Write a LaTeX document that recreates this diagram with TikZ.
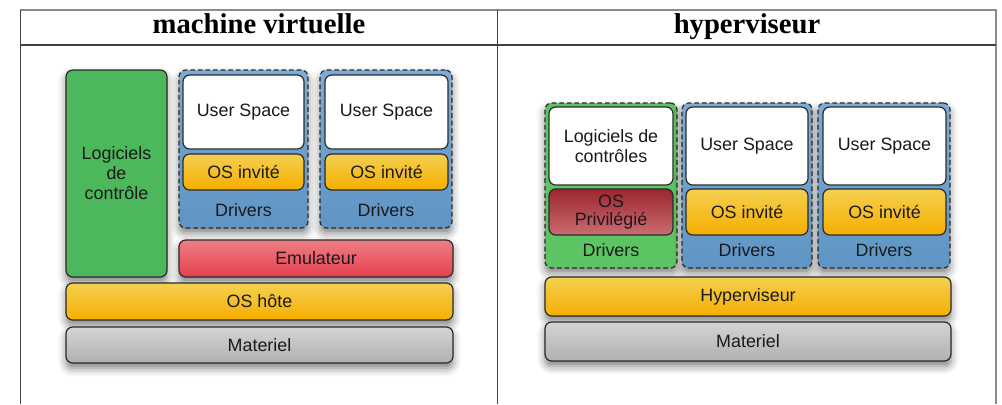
\documentclass[tikz,border=0pt]{standalone}
\usepackage{fontspec}
\setmainfont{Liberation Serif}
\setsansfont{Liberation Sans}
\usetikzlibrary{shadows.blur}

\definecolor{bord}{HTML}{2A2A2A}
\definecolor{texte}{HTML}{1A1A1A}
\definecolor{vertA}{HTML}{4DB85B}
\definecolor{vertB}{HTML}{5CC462}
\definecolor{bleuH}{HTML}{7CABD4}
\definecolor{bleuB}{HTML}{5F94C4}
\definecolor{orangeH}{HTML}{F4D050}
\definecolor{orangeB}{HTML}{F6AE00}
\definecolor{rougeH}{HTML}{EE7E84}
\definecolor{rougeB}{HTML}{E5404F}
\definecolor{grisH}{HTML}{D4D4D4}
\definecolor{grisB}{HTML}{B0B0B0}
\definecolor{bordeauxH}{HTML}{9C2630}
\definecolor{bordeauxB}{HTML}{CB6C72}

% #1: style, #2: name, #3: x1, #4: y1, #5: x2, #6: y2, #7: text
\newcommand{\bloc}[7][]{%
	\pgfmathsetmacro\bx{(#3+#5)/2}\pgfmathsetmacro\by{(#4+#6)/2}%
	\pgfmathsetmacro\bw{(#5-#3)*0.75}\pgfmathsetmacro\bh{(#6-#4)*0.75}%
	\node[couche,#1,minimum width=\bw pt,minimum height=\bh pt] (#2) at (\bx,\by) {#7};
}

\tikzset{
	couche/.style={draw=bord,line width=0.9pt,rounded corners=5pt,inner sep=0pt,outer sep=0pt,
		font=\sffamily\fontsize{13.4}{15}\selectfont,text=texte,align=center},
	ombre/.style={blur shadow={shadow xshift=0pt,shadow yshift=-4pt,shadow blur radius=6pt,shadow opacity=50}},
	logiciel/.style={ombre,fill=vertA},
	espace/.style={fill=white},
	invite/.style={top color=orangeH,bottom color=orangeB},
	hote/.style={ombre,top color=orangeH,bottom color=orangeB},
	emul/.style={ombre,top color=rougeH,bottom color=rougeB},
	materiel/.style={ombre,top color=grisH,bottom color=grisB},
	privilegie/.style={top color=bordeauxH,bottom color=bordeauxB,font=\sffamily\fontsize{13.4}{14}\selectfont},
	vmbleu/.style={ombre,dash pattern=on 3.5pt off 2.2pt,top color=bleuH,bottom color=bleuB},
	vmvert/.style={ombre,dash pattern=on 3.5pt off 2.2pt,fill=vertB},
	pilote/.style={font=\sffamily\fontsize{13.4}{15}\selectfont,text=texte,inner sep=0pt},
	titre/.style={font=\bfseries\fontsize{21.5}{24}\selectfont,inner sep=0pt,anchor=base},
}

\begin{document}
\begin{tikzpicture}[x=0.75pt,y=-0.75pt]
	\useasboundingbox (0,0) rectangle (1002,404);
	
	% Table
	\draw[black!45,line width=1.5pt] (20,10) -- (997,10);
	\draw[black!45,line width=1.5pt] (996,10) -- (996,404);
	\draw[black!75,line width=0.8pt] (20.5,10) -- (20.5,404);
	\draw[black!75,line width=0.8pt] (497.5,10) -- (497.5,404);
	\draw[black!75,line width=0.8pt] (20.5,45) -- (996,45);
	\node[titre] (titreA) at (259,33) {machine virtuelle};
	\node[titre] (titreB) at (747,33) {hyperviseur};
	
	% Machine virtuelle
	\bloc[logiciel]{ctrlA}{66}{70}{167}{277}{Logiciels\\de\\contrôle}
	\bloc[vmbleu]{vmA}{179}{70}{308}{228}{}
	\bloc[espace]{usA}{183}{75}{304}{149}{User Space}
	\bloc[invite]{osA}{183}{154}{304}{190}{OS invité}
	\node[pilote] (drvA) at (243.5,210) {Drivers};
	\bloc[vmbleu]{vmB}{320}{70}{452}{228}{}
	\bloc[espace]{usB}{325}{75}{448}{149}{User Space}
	\bloc[invite]{osB}{325}{154}{448}{190}{OS invité}
	\node[pilote] (drvB) at (386,210) {Drivers};
	\bloc[emul]{emu}{179}{240}{453}{277}{Emulateur}
	\bloc[hote]{hote}{66}{283}{453}{320}{OS hôte}
	\bloc[materiel]{matA}{66}{327}{453}{363}{Materiel}
	
	% Hyperviseur
	\bloc[vmvert]{vmC}{545}{103}{677}{268}{}
	\bloc[espace]{ctrlB}{549}{107}{673}{185}{Logiciels de\\contrôles}
	\bloc[privilegie]{osP}{549}{189}{673}{235}{OS\\Privilégié}
	\node[pilote] (drvC) at (611,250) {Drivers};
	\bloc[vmbleu]{vmD}{682}{103}{812}{268}{}
	\bloc[espace]{usD}{686}{107}{808}{185}{User Space}
	\bloc[invite]{osD}{686}{189}{808}{235}{OS invité}
	\node[pilote] (drvD) at (747,250) {Drivers};
	\bloc[vmbleu]{vmE}{818}{103}{950}{268}{}
	\bloc[espace]{usE}{823}{107}{946}{185}{User Space}
	\bloc[invite]{osE}{823}{189}{946}{235}{OS invité}
	\node[pilote] (drvE) at (884,250) {Drivers};
	\bloc[hote]{hyp}{545}{277}{951}{316}{Hyperviseur}
	\bloc[materiel]{matB}{545}{322}{951}{361}{Materiel}
\end{tikzpicture}
\end{document}
